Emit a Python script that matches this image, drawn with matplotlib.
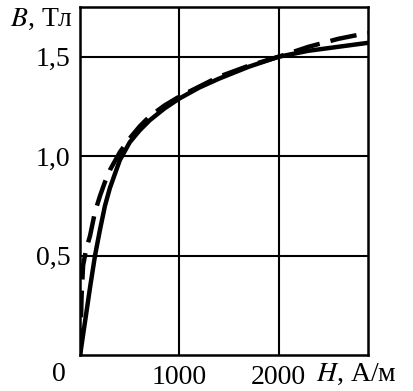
import matplotlib.pyplot as plt

# кривые намагничивания, значения
H_solid = [0, 50, 100, 150, 200, 250, 300, 400, 500, 600, 700, 850,
           1000, 1200, 1400, 1700, 2000, 2300, 2600, 2900]
B_solid = [0, 0.17, 0.34, 0.5, 0.63, 0.75, 0.84, 0.98, 1.07, 1.13, 1.18, 1.24,
           1.29, 1.345, 1.39, 1.45, 1.50, 1.53, 1.55, 1.57]

H_dash = [0, 15, 30, 60, 100, 150, 200, 250, 300, 400, 500, 600, 700, 850,
          1000, 1200, 1400, 1700, 2000, 2300, 2600, 2900]
B_dash = [0, 0.3, 0.45, 0.53, 0.6, 0.72, 0.8, 0.87, 0.93, 1.02, 1.09, 1.15, 1.2, 1.255,
          1.3, 1.35, 1.4, 1.455, 1.5, 1.55, 1.59, 1.62]

x_ticks = [1000, 2000]
x_labels = ['1000', '2000']
y_ticks = [0.5, 1.0, 1.5]
y_labels = ['0,5', '1,0', '1,5']

plt.rcParams['font.family'] = ['Liberation Serif', 'DejaVu Serif']
plt.rcParams['mathtext.fontset'] = 'stix'

fig = plt.figure(figsize=(4.13, 3.91), dpi=100)
ax = fig.add_axes([0.194, 0.092, 0.697, 0.89])

ax.plot(H_solid, B_solid, '-', color='black', lw=3.2, solid_capstyle='round')
ax.plot(H_dash, B_dash, '--', color='black', lw=3.2, dashes=(6, 2.5))

ax.set_xlim(0, 2900)
ax.set_ylim(0, 1.75)
ax.set_xticks(x_ticks)
ax.set_xticklabels(x_labels)
ax.set_yticks(y_ticks)
ax.set_yticklabels(y_labels)
ax.tick_params(length=0, labelsize=20, pad=7)
ax.grid(True, color='black', lw=1.5)

for s in ax.spines.values():
    s.set_linewidth(1.8)

ax.text(-0.075, -0.02, '0', transform=ax.transAxes, fontsize=20,
        ha='center', va='top')
ax.text(0.82, -0.02, '$H$, А/м', transform=ax.transAxes, fontsize=20,
        ha='left', va='top')
ax.text(-0.025, 1.0, '$B$, Тл', transform=ax.transAxes, fontsize=20,
        ha='right', va='top')

fig.savefig('out.png', dpi=100)
